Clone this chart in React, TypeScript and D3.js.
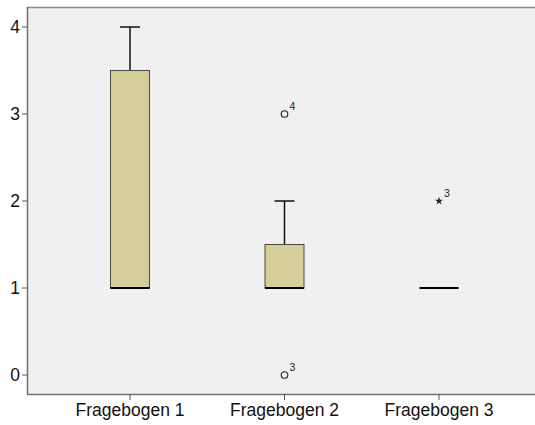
import React from "react";
import * as d3 from "d3";

const categories = ["Fragebogen 1", "Fragebogen 2", "Fragebogen 3"];
const q1 = [1, 1, 1];
const median = [1, 1, 1];
const q3 = [3.5, 1.5, 1];
const whiskerLow = [1, 1, 1];
const whiskerHigh = [4, 2, 1];
const outliers = [
  { cat: 1, value: 3, label: "4", kind: "circle" },
  { cat: 1, value: 0, label: "3", kind: "circle" },
  { cat: 2, value: 2, label: "3", kind: "star" },
];
const yTicks = [0, 1, 2, 3, 4];

export default function App() {
  const W = 535, H = 425;
  const left = 27, top = 7, right = 535, bottom = 394;
  const y = d3.scaleLinear().domain([0, 4]).range([375, 27]);
  const x = d3.scalePoint<string>().domain(categories).range([130, 439]);
  const boxW = 39;
  const capW = 20;
  const font = "'Liberation Sans', Arial, sans-serif";
  const star = d3.symbol().type(d3.symbolStar).size(20)() as string;

  return (
    <svg width={W} height={H} style={{ position: "absolute", left: 0, top: 0, background: "#fff" }}>
      <rect x={left} y={top} width={right - left} height={bottom - top} fill="#f0f0f0" />
      <line x1={left} x2={right} y1={top + 0.5} y2={top + 0.5} stroke="#8a8a8a" strokeWidth={1.5} />
      <line x1={left + 0.5} x2={left + 0.5} y1={top} y2={bottom} stroke="#707070" strokeWidth={1.5} />
      <line x1={left} x2={right} y1={bottom + 0.5} y2={bottom + 0.5} stroke="#707070" strokeWidth={1.5} />
      {yTicks.map((t) => (
        <g key={t}>
          <line x1={left - 5} x2={left} y1={y(t)} y2={y(t)} stroke="#555" />
          <text x={left - 7} y={y(t)} dy="0.36em" textAnchor="end" fontFamily={font} fontSize={17.5} fill="#111">
            {t}
          </text>
        </g>
      ))}
      {categories.map((c, i) => {
        const cx = x(c)!;
        return (
          <g key={c}>
            <line x1={cx} x2={cx} y1={bottom} y2={bottom + 6} stroke="#555" />
            <text x={cx} y={bottom + 22} textAnchor="middle" fontFamily={font} fontSize={17.5} fill="#111">
              {c}
            </text>
            {whiskerHigh[i] > q3[i] && (
              <>
                <line x1={cx} x2={cx} y1={y(whiskerHigh[i])} y2={y(q3[i])} stroke="#111" strokeWidth={1.5} />
                <line x1={cx - capW / 2} x2={cx + capW / 2} y1={y(whiskerHigh[i])} y2={y(whiskerHigh[i])} stroke="#111" strokeWidth={1.5} />
              </>
            )}
            {whiskerLow[i] < q1[i] && (
              <>
                <line x1={cx} x2={cx} y1={y(whiskerLow[i])} y2={y(q1[i])} stroke="#111" strokeWidth={1.5} />
                <line x1={cx - capW / 2} x2={cx + capW / 2} y1={y(whiskerLow[i])} y2={y(whiskerLow[i])} stroke="#111" strokeWidth={1.5} />
              </>
            )}
            {q3[i] > q1[i] && (
              <rect x={cx - boxW / 2} y={y(q3[i])} width={boxW} height={y(q1[i]) - y(q3[i])} fill="#d4cf98" stroke="#4a4a3a" strokeWidth={1} />
            )}
            <line x1={cx - boxW / 2} x2={cx + boxW / 2} y1={y(median[i])} y2={y(median[i])} stroke="#000" strokeWidth={2.2} />
          </g>
        );
      })}
      {outliers.map((o, k) => {
        const cx = x(categories[o.cat])!;
        const cy = y(o.value);
        return (
          <g key={k}>
            {o.kind === "circle" ? (
              <circle cx={cx} cy={cy} r={3.3} fill="none" stroke="#222" strokeWidth={1.1} />
            ) : (
              <path d={star} transform={`translate(${cx},${cy})`} fill="#222" />
            )}
            <text x={cx + 5} y={cy - 4} fontFamily={font} fontSize={10.5} fill="#222">
              {o.label}
            </text>
          </g>
        );
      })}
    </svg>
  );
}
